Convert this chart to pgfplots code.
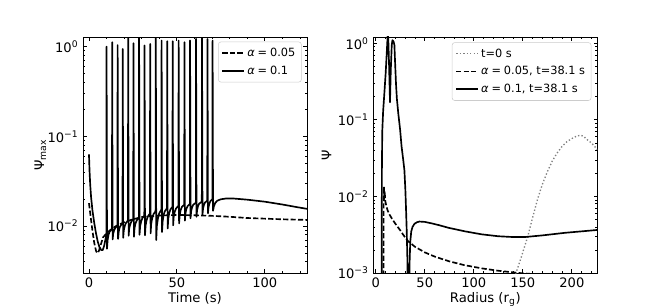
\documentclass[border=0pt]{standalone}
\usepackage{pgfplots}
\pgfplotsset{compat=1.18}
\usepackage{fontspec}
\setmainfont{DejaVu Sans}
\newcommand{\tickfont}{\fontsize{9.8}{11}\selectfont}
\newcommand{\labfont}{\fontsize{9.9}{12}\selectfont}
\newcommand{\legfont}{\fontsize{8.5}{10}\selectfont}
\newcommand{\eq}{\hspace{0.26em}=\hspace{0.26em}}
\pgfplotsset{
  sol/.style={black, line width=1.25pt, line join=round, solid},
  dsh/.style={black, line width=1.25pt, line join=round, dash pattern=on 3.9pt off 1.7pt},
  dot/.style={gray, line width=1.0pt, dash pattern=on 1pt off 1.6pt},
}
\begin{document}
\begin{tikzpicture}
\useasboundingbox (0,0) rectangle (498pt,230.25pt);
% ---------------- left panel ----------------
\begin{axis}[ymode=log,
  scale only axis, width=168pt, height=177pt, anchor=south west, at={(62.25pt,25.5pt)},
  tick align=inside, xtick pos=both, ytick pos=both,
  major tick length=2.7pt, minor tick length=1.6pt,
  every tick/.style={black, line width=0.6pt},
  axis line style={line width=0.6pt},
  tick label style={font=\tickfont},
  label style={font=\labfont},
  xlabel style={yshift=3.2pt},
  ylabel style={yshift=-6pt},
  /pgf/number format/assume math mode=true,
  legend cell align=left,
  legend style={draw=black!20, rounded corners=2pt, fill=white, fill opacity=0.8, text opacity=1,
    font=\legfont, at={(1,1)}, anchor=north east, xshift=-4pt, yshift=-3.5pt,
    inner xsep=2.5pt, inner ysep=2.5pt, row sep=1.5pt},
  legend image code/.code={\draw[#1] (0pt,0pt) -- (16pt,0pt);},
  xmin=-3.4, xmax=124, ymin=3e-3, ymax=1.28,
  xtick={0,50,100}, minor xtick={10,20,30,40,60,70,80,90,110,120},
  ytick={0.01,0.1,1}, yticklabels={10\textsuperscript{−2},10\textsuperscript{−1},10\textsuperscript{0}},
  minor ytick={0.003,0.004,0.005,0.006,0.007,0.008,0.009,0.02,0.03,0.04,0.05,0.06,0.07,0.08,0.09,0.2,0.3,0.4,0.5,0.6,0.7,0.8,0.9},
  xlabel={Time (s)}, ylabel={Ψ\textsubscript{max}},
]
\addplot[dsh] coordinates {
(0,0.018) (0.5,0.015) (1,0.0125) (2,0.0088) (3,0.0065) (4,0.0053) (4.7,0.0050) (5.5,0.0052) (6.5,0.0060)
(8,0.0075) (10,0.0083) (12,0.0090) (15,0.0099) (18,0.0106) (21,0.0112) (25,0.0119) (30,0.0126)
(35,0.0129) (40,0.0131) (50,0.0133) (60,0.0132) (70,0.0130) (80,0.0127) (90,0.0123) (100,0.0121)
(110,0.0119) (124.5,0.0117)
};
\addlegendentry{\textit{α}\eq 0.05}
\addplot[sol] coordinates {
(0,0.063) (0.3,0.042) (0.7,0.029) (1.2,0.021) (2,0.0148) (3,0.0108) (4,0.0083) (5,0.0067) (6,0.0058)
(7,0.0054) (7.8,0.0054) (8.6,0.0060) (9.3,0.0070) (9.88,0.0080)
(10.0,1.0) (10.25,0.0056) (10.6,0.0070) (11.1,0.0080) (11.8,0.0087) (13.08,0.0093)
(13.2,1.12) (13.45,0.0071) (13.8,0.0083) (14.4,0.0091) (15.1,0.0096) (16.18,0.0101)
(16.3,1.04) (16.55,0.0072) (16.9,0.0086) (17.4,0.0096) (18.1,0.0102) (19.08,0.0108)
(19.2,0.94) (19.45,0.0074) (19.8,0.0090) (20.4,0.0101) (21.1,0.0109) (22.18,0.0115)
(22.3,1.6) (22.55,0.0078) (22.9,0.0095) (23.5,0.0105) (24.2,0.0113) (25.18,0.0120)
(25.3,1.09) (25.55,0.0076) (25.9,0.0095) (26.5,0.0108) (27.3,0.0117) (28.38,0.0125)
(28.5,1.6) (28.75,0.0080) (29.1,0.0100) (29.7,0.0113) (30.4,0.0123) (31.48,0.0131)
(31.6,1.03) (31.85,0.0079) (32.2,0.0102) (32.8,0.0117) (33.5,0.0128) (34.68,0.0138)
(34.8,1.07) (35.05,0.0083) (35.4,0.0107) (36.0,0.0123) (36.7,0.0136) (37.88,0.0146)
(38.0,1.6) (38.25,0.0070) (38.6,0.0100) (39.2,0.0121) (39.9,0.0138) (41.18,0.0153)
(41.3,1.17) (41.55,0.0086) (41.9,0.0113) (42.4,0.0132) (43.1,0.0146) (44.38,0.0158)
(44.5,1.15) (44.75,0.0094) (45.1,0.0121) (45.6,0.0139) (46.3,0.0153) (47.48,0.0164)
(47.6,1.15) (47.85,0.0102) (48.2,0.0128) (48.8,0.0145) (49.5,0.0157) (50.88,0.0168)
(51.0,1.17) (51.25,0.0107) (51.6,0.0133) (52.1,0.0150) (52.8,0.0163) (54.18,0.0173)
(54.3,1.12) (54.55,0.0115) (54.9,0.0140) (55.4,0.0156) (56.1,0.0167) (57.38,0.0177)
(57.5,1.17) (57.75,0.0122) (58.1,0.0146) (58.6,0.0161) (59.3,0.0173) (60.78,0.0182)
(60.9,1.22) (61.15,0.0127) (61.5,0.0151) (62.0,0.0167) (62.7,0.0178) (64.18,0.0187)
(64.3,1.25) (64.55,0.0135) (64.9,0.0158) (65.4,0.0173) (66.0,0.0183) (67.28,0.0192)
(67.4,1.22) (67.65,0.0139) (68.0,0.0163) (68.5,0.0179) (69.1,0.0190) (70.18,0.0199)
(70.3,1.17) (70.55,0.0148) (71.0,0.0165) (71.8,0.0181) (73,0.0192) (75,0.0199) (78,0.0203)
(82,0.0203) (90,0.0197) (100,0.0187) (110,0.0174) (118,0.0163) (124.5,0.0155)
};
\addlegendentry{\textit{α}\eq 0.1}
\end{axis}
% ---------------- right panel ----------------
\begin{axis}[ymode=log,
  scale only axis, width=168pt, height=177pt, anchor=south west, at={(280pt,25.5pt)},
  tick align=inside, xtick pos=both, ytick pos=both,
  major tick length=2.7pt, minor tick length=1.6pt,
  every tick/.style={black, line width=0.6pt},
  axis line style={line width=0.6pt},
  tick label style={font=\tickfont},
  label style={font=\labfont},
  xlabel style={yshift=3.2pt},
  ylabel style={yshift=-2pt},
  /pgf/number format/assume math mode=true,
  legend cell align=left,
  legend style={draw=black!20, rounded corners=2pt, fill=white, fill opacity=0.8, text opacity=1,
    font=\legfont, at={(1,1)}, anchor=north east, xshift=-4.5pt, yshift=-4pt,
    inner xsep=2.5pt, inner ysep=2.5pt, row sep=1.5pt},
  legend image code/.code={\draw[#1] (0pt,0pt) -- (16pt,0pt);},
  xmin=-2.5, xmax=226, ymin=1e-3, ymax=1.21,
  xtick={0,50,100,150,200}, minor xtick={10,20,30,40,60,70,80,90,110,120,130,140,160,170,180,190,210,220},
  ytick={0.001,0.01,0.1,1}, yticklabels={10\textsuperscript{−3},10\textsuperscript{−2},10\textsuperscript{−1},10\textsuperscript{0}},
  minor ytick={0.002,0.003,0.004,0.005,0.006,0.007,0.008,0.009,0.02,0.03,0.04,0.05,0.06,0.07,0.08,0.09,0.2,0.3,0.4,0.5,0.6,0.7,0.8,0.9},
  xlabel={Radius (r\textsubscript{g})}, ylabel={Ψ},
]
\addplot[dot] coordinates {
(140,0.0008) (143,0.001) (149,0.0017) (155,0.003) (160,0.0053) (165,0.0092) (170,0.0145) (175,0.021)
(180,0.029) (185,0.037) (190,0.045) (195,0.052) (200,0.057) (205,0.0615) (209,0.063) (212,0.061)
(215,0.056) (219,0.051) (222,0.047) (226,0.041)
};
\addlegendentry{t=0 s}
\addplot[dsh] coordinates {
(7.9,0.0003) (8.0,0.011) (8.3,0.0135) (8.7,0.0092) (9.1,0.0118) (9.6,0.0088) (10.5,0.0078) (12,0.0066)
(14,0.0058) (17,0.0050) (20,0.0044) (25,0.0036) (30,0.0029) (33,0.0026) (40,0.0022) (50,0.00186)
(60,0.00164) (75,0.00142) (90,0.00127) (108,0.00115) (125,0.00107) (140,0.00102) (150,0.00099)
(165,0.00096) (185,0.00093) (226,0.0009)
};
\addlegendentry{\textit{α}\eq 0.05, t=38.1 s}
\addplot[sol] coordinates {
(6.0,0.0003) (6.2,0.02) (6.6,0.07) (7.5,0.13) (8.5,0.2) (10.1,0.41) (11.3,0.8) (12.2,1.35) (12.8,1.1)
(13.6,0.5) (14.5,0.17) (15.3,0.45) (16.3,0.95) (17.0,1.1) (18.2,1.05) (19.0,0.95) (19.6,0.6) (20.6,0.3)
(21.5,0.19) (23.0,0.12) (24.8,0.075) (26.3,0.045) (28.0,0.03) (29.2,0.022) (30.2,0.012) (31.0,0.006)
(31.6,0.0034) (32.2,0.0016) (32.7,0.0005) (34.0,0.0005) (34.5,0.0014) (35.2,0.0026) (36.2,0.0035)
(37.5,0.0040) (39.5,0.0044) (42,0.0046) (44.5,0.0047) (50,0.00465) (57,0.00445) (65,0.0042)
(74,0.0039) (91,0.0035) (108,0.0032) (125,0.00302) (140,0.00295) (152,0.00295) (170,0.0031)
(193,0.00335) (210,0.0035) (226,0.00365)
};
\addlegendentry{\textit{α}\eq 0.1, t=38.1 s}
\end{axis}
\end{tikzpicture}
\end{document}
